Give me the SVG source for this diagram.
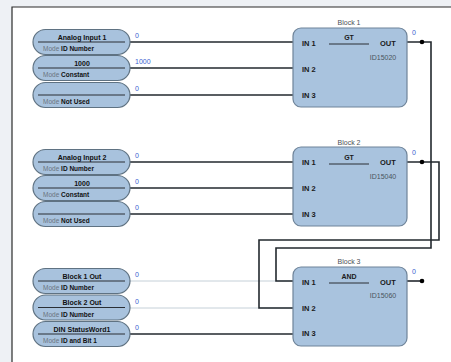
<svg xmlns="http://www.w3.org/2000/svg" width="451" height="362" viewBox="0 0 451 362">
<style>
text{font-family:"Liberation Sans",Arial,sans-serif;}
.pill{fill:#a8c2dd;stroke:#5f7282;stroke-width:1.2;}
.div{stroke:#2a2f35;stroke-width:1;}
.pt{font-size:7px;font-weight:bold;fill:#111;text-anchor:middle;}
.md{font-size:6.5px;fill:#6a7480;}
.mb{font-weight:bold;fill:#111;}
.val{font-size:7px;fill:#3a5fd0;}
.blk{fill:#a9c3de;stroke:#6f8499;stroke-width:1.2;}
.in{font-size:7.5px;font-weight:bold;fill:#1a1a1a;}
.bl{font-size:7px;fill:#4a4f55;text-anchor:middle;}
.fn{font-size:7px;font-weight:bold;fill:#1a1a1a;text-anchor:middle;}
.id{font-size:7px;fill:#4a5560;text-anchor:middle;}
.w{fill:none;stroke:#22282e;stroke-width:1.6;}
.wl{fill:none;stroke:#c5d0d8;stroke-width:1;}
.dot{fill:#000;}
</style>
<rect x="0" y="0" width="451" height="362" fill="#eef1f5"/>
<rect x="12" y="7" width="439" height="355" fill="#ffffff"/>
<path d="M12,362 V7 H451" fill="none" stroke="#2b2b2b" stroke-width="1.2"/>

<g id="connectors">
<path class="w" d="M130,42 H293"/>
<path class="w" d="M130,68 H293"/>
<path class="w" d="M130,95 H293"/>
<path class="w" d="M130,162 H293"/>
<path class="w" d="M130,188 H293"/>
<path class="w" d="M130,214 H293"/>
<path class="wl" d="M130,281 H293"/>
<path class="wl" d="M130,308 H293"/>
<path class="w" d="M130,334 H293"/>
<path class="w" d="M407,42 H431 V248 H276 V281 H293"/>
<path class="w" d="M407,162 H439 V240 H259 V308 H293"/>
<path class="w" d="M407,281 H422"/>
<circle class="dot" cx="422" cy="42" r="2.3"/>
<circle class="dot" cx="422" cy="162" r="2.3"/>
<circle class="dot" cx="422" cy="281" r="2.3"/>
</g>

<g id="in1a"><rect class="pill" x="33" y="29.5" width="97" height="25" rx="12.5"/><line class="div" x1="38" y1="42" x2="125" y2="42"/><text class="pt" x="82" y="39.5">Analog Input 1</text><text class="md" x="43" y="51">Mode <tspan class="mb">ID Number</tspan></text><text class="val" x="135" y="37.5">0</text></g>
<g id="in1b"><rect class="pill" x="33" y="55.5" width="97" height="25" rx="12.5"/><line class="div" x1="38" y1="68" x2="125" y2="68"/><text class="pt" x="82" y="65.5">1000</text><text class="md" x="43" y="77">Mode <tspan class="mb">Constant</tspan></text><text class="val" x="135" y="63.5">1000</text></g>
<g id="in1c"><rect class="pill" x="33" y="82.5" width="97" height="25" rx="12.5"/><line class="div" x1="38" y1="95" x2="125" y2="95"/><text class="md" x="43" y="104">Mode <tspan class="mb">Not Used</tspan></text><text class="val" x="135" y="90.5">0</text></g>

<g id="in2a"><rect class="pill" x="33" y="149.5" width="97" height="25" rx="12.5"/><line class="div" x1="38" y1="162" x2="125" y2="162"/><text class="pt" x="82" y="159.5">Analog Input 2</text><text class="md" x="43" y="171">Mode <tspan class="mb">ID Number</tspan></text><text class="val" x="135" y="157.5">0</text></g>
<g id="in2b"><rect class="pill" x="33" y="175.5" width="97" height="25" rx="12.5"/><line class="div" x1="38" y1="188" x2="125" y2="188"/><text class="pt" x="82" y="185.5">1000</text><text class="md" x="43" y="197">Mode <tspan class="mb">Constant</tspan></text><text class="val" x="135" y="183.5">0</text></g>
<g id="in2c"><rect class="pill" x="33" y="201.5" width="97" height="25" rx="12.5"/><line class="div" x1="38" y1="214" x2="125" y2="214"/><text class="md" x="43" y="223">Mode <tspan class="mb">Not Used</tspan></text><text class="val" x="135" y="209.5">0</text></g>

<g id="in3a"><rect class="pill" x="33" y="268.5" width="97" height="25" rx="12.5"/><line class="div" x1="38" y1="281" x2="125" y2="281"/><text class="pt" x="82" y="278.5">Block 1 Out</text><text class="md" x="43" y="290">Mode <tspan class="mb">ID Number</tspan></text><text class="val" x="135" y="276.5">0</text></g>
<g id="in3b"><rect class="pill" x="33" y="295" width="97" height="25" rx="12.5"/><line class="div" x1="38" y1="307.5" x2="125" y2="307.5"/><text class="pt" x="82" y="305">Block 2 Out</text><text class="md" x="43" y="316.5">Mode <tspan class="mb">ID Number</tspan></text><text class="val" x="135" y="303.5">0</text></g>
<g id="in3c"><rect class="pill" x="33" y="321.5" width="97" height="25" rx="12.5"/><line class="div" x1="38" y1="334" x2="125" y2="334"/><text class="pt" x="82" y="331.5">DIN StatusWord1</text><text class="md" x="43" y="343">Mode <tspan class="mb">ID and Bit  1</tspan></text><text class="val" x="135" y="329.5">0</text></g>

<g id="block1"><text class="bl" x="349" y="25">Block 1</text><rect class="blk" x="293" y="28" width="114" height="79" rx="8"/><text class="fn" x="349" y="40">GT</text><line class="div" x1="329" y1="44" x2="369" y2="44"/><text class="in" x="302" y="45.5">IN 1</text><text class="in" x="302" y="71.5">IN 2</text><text class="in" x="302" y="97.5">IN 3</text><text class="in" x="380" y="45.5">OUT</text><text class="id" x="383" y="60">ID15020</text><text class="val" x="412" y="35">0</text></g>

<g id="block2"><text class="bl" x="349" y="145">Block 2</text><rect class="blk" x="293" y="147" width="114" height="79" rx="8"/><text class="fn" x="349" y="160">GT</text><line class="div" x1="329" y1="164" x2="369" y2="164"/><text class="in" x="302" y="165">IN 1</text><text class="in" x="302" y="191">IN 2</text><text class="in" x="302" y="216.5">IN 3</text><text class="in" x="380" y="165">OUT</text><text class="id" x="383" y="179">ID15040</text><text class="val" x="412" y="155">0</text></g>

<g id="block3"><text class="bl" x="349" y="264">Block 3</text><rect class="blk" x="293" y="267" width="114" height="79" rx="8"/><text class="fn" x="349" y="279">AND</text><line class="div" x1="329" y1="283" x2="369" y2="283"/><text class="in" x="302" y="284.5">IN 1</text><text class="in" x="302" y="310.5">IN 2</text><text class="in" x="302" y="336">IN 3</text><text class="in" x="380" y="284.5">OUT</text><text class="id" x="383" y="298">ID15060</text><text class="val" x="412" y="274">0</text></g>
</svg>
